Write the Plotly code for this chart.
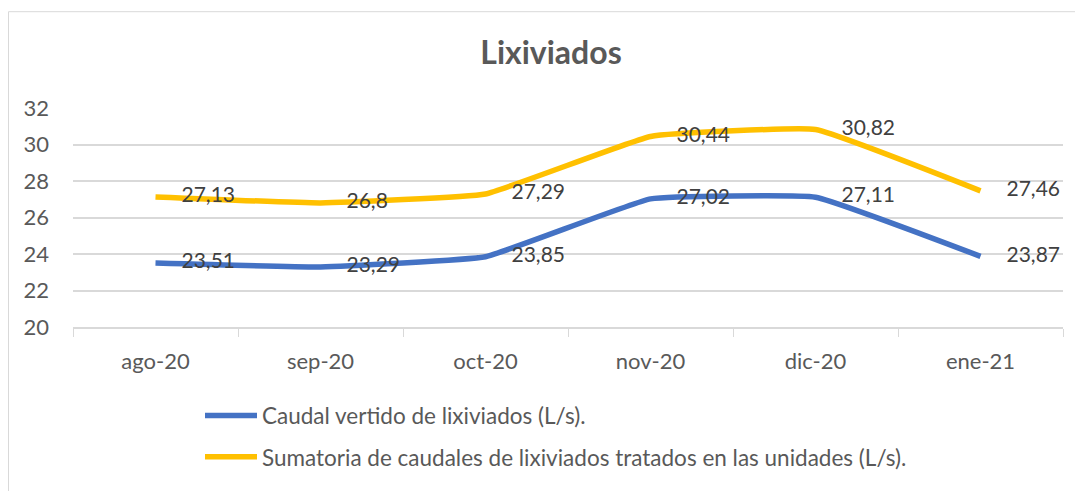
import plotly.graph_objects as go

months = ["ago-20", "sep-20", "oct-20", "nov-20", "dic-20", "ene-21"]
caudal_vertido = [23.51, 23.29, 23.85, 27.02, 27.11, 23.87]
sumatoria = [27.13, 26.8, 27.29, 30.44, 30.82, 27.46]
name_vertido = "Caudal vertido de lixiviados (L/s)."
name_sumatoria = "Sumatoria de caudales de lixiviados tratados en las unidades (L/s)."
y_ticks = [20, 22, 24, 26, 28, 30, 32]

def fmt(v):
    return ("%g" % v).replace(".", ",")

FONT = "Lato, Carlito, Calibri, sans-serif"
W, H = 1075, 483
L, R, T, B = 65, 20, 100, 159
pw, ph = W - L - R, H - T - B

def py(pix):  # figure pixel from top -> paper y
    return (H - B - pix) / ph

def px(pix):
    return (pix - L) / pw

fig = go.Figure()
for vals, name, color, grp in [
    (caudal_vertido, name_vertido, "#4472C4", "a"),
    (sumatoria, name_sumatoria, "#FFC000", "b"),
]:
    fig.add_trace(go.Scatter(
        x=months, y=vals, name=name, mode="lines+text+markers",
        line=dict(color=color, width=5.5, shape="spline", smoothing=0.3),
        marker=dict(size=40, color="rgba(0,0,0,0)"),
        text=[fmt(v) for v in vals], textposition="middle right",
        textfont=dict(size=21, color="#404040", family=FONT),
        legendgroup=grp, cliponaxis=False,
    ))

# chart border
fig.add_shape(type="rect", xref="paper", yref="paper",
              x0=px(0.5), x1=px(W + 20),
              y0=py(H + 20), y1=py(1.5),
              line=dict(color="#d9d9d9", width=1), layer="below")

fig.update_layout(
    width=W, height=H,
    margin=dict(l=L, r=R, t=T, b=B),
    paper_bgcolor="white", plot_bgcolor="white",
    font=dict(family=FONT, color="#595959"),
    title=dict(text="<b>Lixiviados</b>", x=543 / W, xanchor="center",
               y=1 - 45 / H, yanchor="middle",
               font=dict(size=32, color="#595959", family=FONT)),
    xaxis=dict(range=[-0.5, 5.5], showgrid=False, showline=True, linecolor="#d9d9d9",
               linewidth=1.5, ticks="outside", tickson="boundaries", ticklen=8,
               tickcolor="#d9d9d9", tickfont=dict(size=22, color="#595959"),
               ticklabelstandoff=14, fixedrange=True),
    yaxis=dict(range=[20, 32], tickvals=y_ticks, showgrid=True, gridcolor="#d9d9d9",
               gridwidth=1.5, zeroline=False, showline=False,
               tickfont=dict(size=22, color="#595959"), ticklabelstandoff=23, fixedrange=True),
    legend=dict(orientation="v", x=px(192), xanchor="left",
                y=py(393), yanchor="top",
                font=dict(size=22.5, color="#595959", family=FONT), tracegroupgap=9,
                itemwidth=52),
    showlegend=True,
)
fig.write_html("out.html")
